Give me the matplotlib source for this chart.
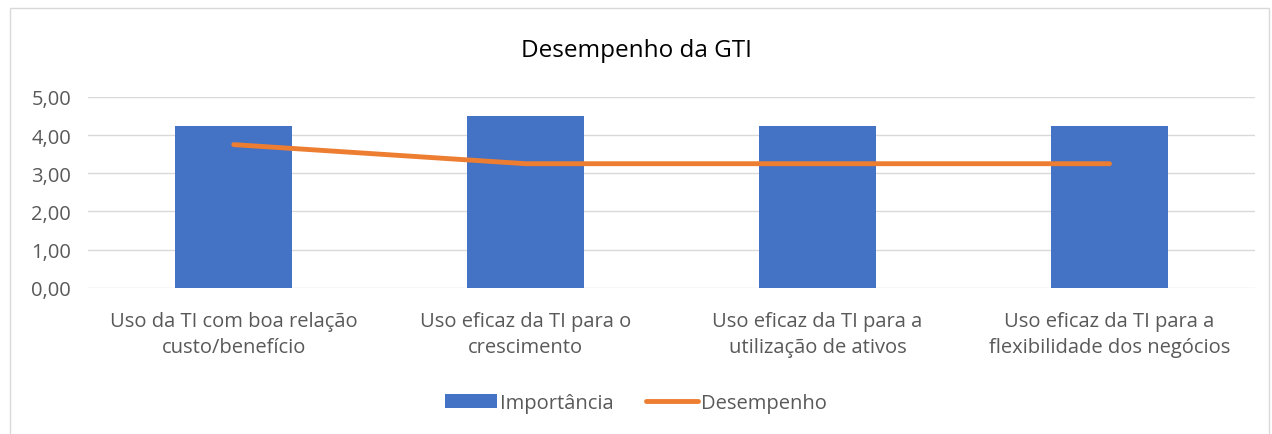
import numpy as np
import matplotlib.pyplot as plt
from matplotlib.patches import Rectangle

plt.rcParams['font.family'] = ['Open Sans', 'DejaVu Sans']

categorias = ['Uso da TI com boa relação\ncusto/benefício',
              'Uso eficaz da TI para o\ncrescimento',
              'Uso eficaz da TI para a\nutilização de ativos',
              'Uso eficaz da TI para a\nflexibilidade dos negócios']
importancia = [4.25, 4.50, 4.25, 4.25]
desempenho = [3.75, 3.25, 3.25, 3.25]
yticks = [0, 1, 2, 3, 4, 5]

fig = plt.figure(figsize=(12.72, 4.35), dpi=100)
fig.patches.append(Rectangle((0.008, -0.01), 0.99, 0.99, transform=fig.transFigure,
                             fill=False, edgecolor='#d9d9d9', linewidth=1))
ax = fig.add_axes([0.069, 0.336, 0.918, 0.439])

x = np.arange(len(categorias))
barras = ax.bar(x, importancia, width=0.4, color='#4472c4', label='Importância', zorder=2)
linha, = ax.plot(x, desempenho, color='#ed7d31', linewidth=3.5, solid_capstyle='round',
                 label='Desempenho', zorder=3)

ax.set_xlim(-0.5, 3.5)
ax.set_ylim(0, 5)
ax.set_yticks(yticks)
ax.set_yticklabels([('%.2f' % v).replace('.', ',') for v in yticks])
ax.set_xticks(x)
ax.set_xticklabels(categorias, linespacing=1.4)
ax.tick_params(axis='both', length=0, labelsize=14.5, colors='#595959')
ax.tick_params(axis='x', pad=17)
ax.tick_params(axis='y', pad=12)
ax.grid(axis='y', color='#d9d9d9', linewidth=1, zorder=0)
for s in ax.spines.values():
    s.set_visible(False)

fig.text(0.5, 0.882, 'Desempenho da GTI', ha='center', va='center',
         fontsize=17.5, color='#000000')

fig.legend([barras, linha], ['Importância', 'Desempenho'], loc='center',
           bbox_to_anchor=(0.5, 0.072), ncol=2, frameon=False,
           fontsize=14.5, labelcolor='#595959', handlelength=2.6, columnspacing=1.6,
           handletextpad=0.15, handleheight=0.7)

fig.savefig('out.png', dpi=100)
